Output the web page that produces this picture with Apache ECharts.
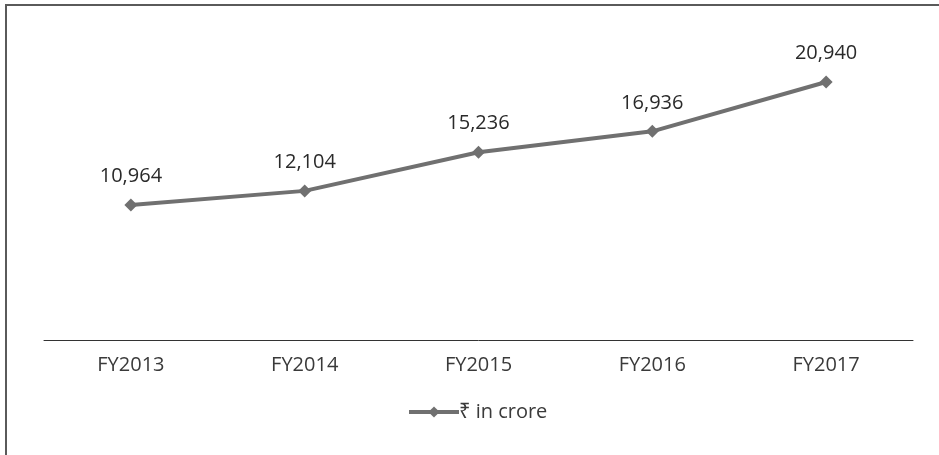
<!DOCTYPE html>
<html>
<head>
<meta charset="utf-8">
<script src="https://cdn.jsdelivr.net/npm/echarts@6/dist/echarts.min.js"></script>
<style>
  html, body { margin: 0; padding: 0; background: #fff; overflow: hidden; }
  #frame { position: absolute; left: 5px; top: 4px; width: 1000px; height: 500px; border: 2px solid #5a5a5a; }
  #main { position: absolute; left: 0; top: 0; width: 939px; height: 455px; }
</style>
</head>
<body>
<div id="frame"></div>
<div id="main"></div>
<script>
// data
var years = ['FY2013', 'FY2014', 'FY2015', 'FY2016', 'FY2017']
var revenue = [10964, 12104, 15236, 16936, 20940]
var seriesName = '₹ in crore'

var chartDom = document.getElementById('main')
var myChart = echarts.init(chartDom)
var font = '"Open Sans", "Noto Sans", sans-serif'

var option = {
  animation: false,
  textStyle: { fontFamily: font },
  grid: { left: 44, right: 26, top: 32, bottom: 115 },
  legend: {
    bottom: 28,
    left: 402,
    data: [seriesName],
    itemWidth: 50,
    itemHeight: 14,
    itemGap: 4,
    lineStyle: { width: 4 },
    textStyle: { fontSize: 20, color: '#3a3a3a', fontFamily: font, padding: [0, 0, 0, -5] }
  },
  xAxis: {
    type: 'category',
    data: years,
    axisLine: { lineStyle: { color: '#333', width: 1 } },
    axisTick: { show: false },
    axisLabel: { fontSize: 20, color: '#3a3a3a', margin: 15, fontFamily: font }
  },
  yAxis: {
    type: 'value',
    min: 0,
    max: 25000,
    show: false,
    splitLine: { show: false }
  },
  series: [{
    name: seriesName,
    type: 'line',
    data: revenue,
    symbol: 'diamond',
    symbolSize: 13,
    itemStyle: { color: '#707070' },
    lineStyle: { color: '#707070', width: 4 },
    label: {
      show: true,
      position: 'top',
      distance: 12,
      fontSize: 20,
      color: '#2a2a2a',
      fontFamily: font,
      formatter: function (p) { return p.value.toLocaleString('en-US') }
    }
  }]
}

option && myChart.setOption(option)
</script>
</body>
</html>
